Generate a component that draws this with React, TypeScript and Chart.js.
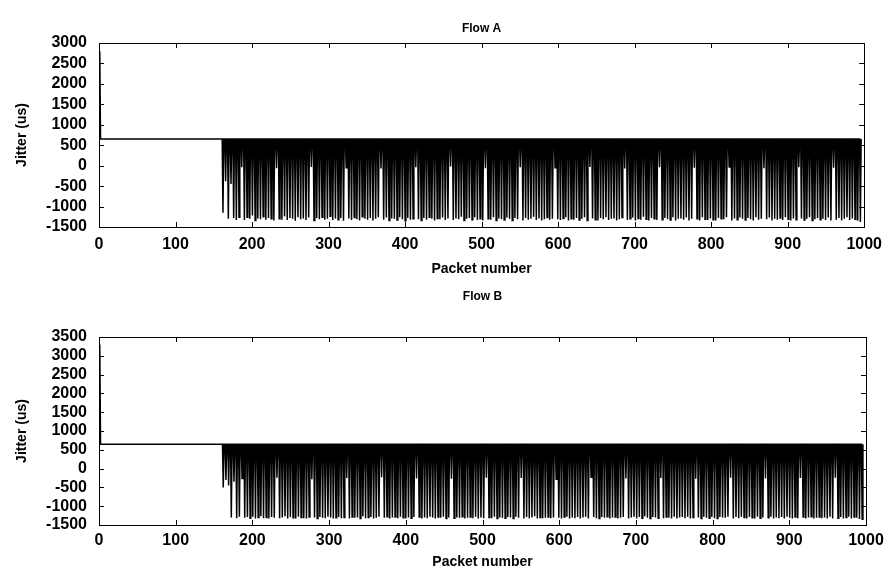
import React, { useEffect, useRef } from 'react';
import { Chart, registerables } from 'chart.js';

Chart.register(...registerables);

const FONT = '"Liberation Sans", Arial, Helvetica, sans-serif';

// ---- data ----
const startPackets = [1, 2, 160];
const flowAStartJitter = [2800, 650, 650];
const flowBStartJitter = [3300, 650, 650];
const flowAHigh = 650;
const flowBHigh = 650;
const stripeFirstPacket = 162;
const stripeSpacing = 3.5; // packets between successive jitter drops

const flowALows = [
  -1150, -380, -1300, -450, -1280, -1330, -1260,
  -40, -1330, -1260, -1300, -1220, -1340, -1290, -1310, -1250, -1320, -1280, -1300, -1340,
  -60, -1300, -1320, -1240, -1330, -1280, -1300, -1350, -1260, -1310, -1290, -1330, -1270,
  -30, -1340, -1280, -1310, -1260, -1320, -1300, -1240, -1330, -1290, -1320, -1280, -1350,
  -50, -1290, -1330, -1270, -1310, -1340, -1250, -1300, -1320, -1280, -1340, -1300, -1260,
  -70, -1320, -1270, -1340, -1290, -1300, -1330, -1260, -1310, -1350, -1280, -1320, -1300,
  -40, -1310, -1340, -1280, -1320, -1260, -1300, -1340, -1290, -1310, -1270, -1330, -1290,
  -20, -1330, -1290, -1310, -1250, -1340, -1300, -1280, -1320, -1260, -1330, -1300, -1340,
  -60, -1300, -1320, -1260, -1340, -1290, -1310, -1330, -1270, -1300, -1340, -1280, -1310,
  -40, -1340, -1280, -1320, -1300, -1250, -1330, -1290, -1340, -1310, -1270, -1320, -1300,
  -50, -1310, -1330, -1290, -1260, -1340, -1300, -1320, -1280, -1330, -1300, -1260, -1340,
  -30, -1290, -1320, -1340, -1280, -1310, -1260, -1330, -1300, -1290, -1340, -1310, -1270,
  -70, -1330, -1300, -1270, -1340, -1290, -1320, -1250, -1310, -1340, -1280, -1300, -1330,
  -40, -1320, -1280, -1310, -1330, -1260, -1340, -1300, -1290, -1320, -1270, -1340, -1300,
  -50, -1300, -1340, -1260, -1310, -1330, -1290, -1320, -1340, -1280, -1300, -1310, -1260,
  -30, -1340, -1290, -1320, -1270, -1300, -1330, -1280, -1310, -1340, -1260, -1320, -1300,
  -60, -1310, -1270, -1340, -1300, -1320, -1280, -1330, -1260, -1310, -1340, -1290, -1320,
  -40, -1290, -1330, -1300, -1260, -1340, -1310, -1280, -1320, -1300, -1330, -1270, -1340,
  -50, -1320, -1280, -1340, -1300, -1260, -1330, -1290, -1310, -1350, -1380,
];

const flowBLows = [
  -500, -300, -450, -1300, -350, -1320, -1280,
  -260, -1310, -1290, -1320, -1280, -1330, -1300, -1270, -1320, -1300, -1330, -1290, -1310,
  -240, -1320, -1300, -1270, -1330, -1290, -1310, -1330, -1280, -1300, -1320, -1330, -1290,
  -280, -1300, -1330, -1290, -1310, -1320, -1280, -1300, -1330, -1310, -1290, -1320, -1300,
  -250, -1330, -1290, -1310, -1300, -1330, -1270, -1320, -1300, -1290, -1330, -1310, -1280,
  -230, -1310, -1280, -1330, -1300, -1290, -1320, -1280, -1310, -1330, -1300, -1320, -1290,
  -260, -1290, -1330, -1300, -1320, -1280, -1300, -1330, -1290, -1310, -1280, -1330, -1300,
  -270, -1320, -1300, -1310, -1280, -1330, -1310, -1290, -1320, -1280, -1330, -1300, -1320,
  -240, -1300, -1320, -1280, -1330, -1300, -1310, -1320, -1290, -1300, -1330, -1280, -1310,
  -250, -1330, -1290, -1320, -1300, -1270, -1330, -1300, -1320, -1310, -1290, -1320, -1300,
  -280, -1310, -1330, -1290, -1280, -1330, -1300, -1320, -1290, -1330, -1300, -1280, -1330,
  -230, -1290, -1320, -1330, -1290, -1310, -1280, -1330, -1300, -1290, -1330, -1310, -1290,
  -260, -1330, -1300, -1280, -1330, -1290, -1320, -1270, -1310, -1330, -1290, -1300, -1320,
  -250, -1320, -1290, -1310, -1330, -1280, -1330, -1300, -1290, -1320, -1280, -1330, -1300,
  -270, -1300, -1330, -1280, -1310, -1320, -1290, -1320, -1330, -1290, -1300, -1310, -1280,
  -240, -1330, -1290, -1320, -1280, -1300, -1330, -1290, -1310, -1330, -1280, -1320, -1300,
  -260, -1310, -1280, -1330, -1300, -1320, -1290, -1330, -1280, -1310, -1330, -1290, -1320,
  -250, -1290, -1330, -1300, -1280, -1330, -1310, -1290, -1320, -1300, -1330, -1280, -1330,
  -240, -1320, -1290, -1330, -1300, -1280, -1330, -1290, -1310, -1340, -1350,
];

function buildSeries(startJitter: number[], lows: number[], high: number) {
  const pts: { x: number; y: number }[] = startPackets.map((x, i) => ({ x, y: startJitter[i] }));
  lows.forEach((low, i) => {
    const p = stripeFirstPacket + i * stripeSpacing;
    pts.push({ x: p - 1.0, y: high }, { x: p, y: low }, { x: p + 1.0, y: high });
  });
  return pts;
}

const inwardTicks = {
  id: 'inwardTicks',
  afterDraw(chart: any) {
    const { ctx, chartArea: a, scales } = chart;
    const xs = scales.x;
    const ys = scales.y;
    ctx.save();
    ctx.strokeStyle = '#000';
    ctx.lineWidth = 1;
    ctx.beginPath();
    xs.ticks.forEach((t: any) => {
      const px = Math.round(xs.getPixelForValue(t.value)) + 0.5;
      ctx.moveTo(px, a.bottom);
      ctx.lineTo(px, a.bottom - 5);
      ctx.moveTo(px, a.top);
      ctx.lineTo(px, a.top + 5);
    });
    ys.ticks.forEach((t: any) => {
      const py = Math.round(ys.getPixelForValue(t.value)) + 0.5;
      ctx.moveTo(a.left, py);
      ctx.lineTo(a.left + 5, py);
      ctx.moveTo(a.right, py);
      ctx.lineTo(a.right - 5, py);
    });
    ctx.stroke();
    ctx.restore();
  },
};

type Props = {
  title: string;
  startJitter: number[];
  lows: number[];
  high: number;
  yMin: number;
  yMax: number;
  height: number;
  topHeight: number;
  bottomHeight: number;
  titlePadTop: number;
  xTitlePadBottom: number;
  xTickPad: number;
};

const plain = (v: any) => String(v);

function JitterChart(p: Props) {
  const ref = useRef<HTMLCanvasElement | null>(null);
  useEffect(() => {
    if (!ref.current) return;
    const tickFont = { family: FONT, size: 16, weight: 'bold' as const };
    const titleFont = { family: FONT, size: 14, weight: 'bold' as const };
    const chart = new Chart(ref.current, {
      type: 'line',
      data: {
        datasets: [
          {
            data: buildSeries(p.startJitter, p.lows, p.high),
            borderColor: '#000',
            borderWidth: 1.5,
            pointRadius: 0,
            tension: 0,
            fill: false,
          },
        ],
      },
      plugins: [inwardTicks],
      options: {
        animation: false,
        responsive: false,
        devicePixelRatio: 1,
        layout: { padding: 0 },
        plugins: { legend: { display: false }, tooltip: { enabled: false }, title: { display: false } },
        scales: {
          x: {
            type: 'linear',
            position: 'bottom',
            min: 0,
            max: 1000,
            ticks: { stepSize: 100, font: tickFont, color: '#000', padding: p.xTickPad, maxRotation: 0, autoSkip: false, callback: plain },
            grid: { drawOnChartArea: false, drawTicks: false },
            border: { display: true, color: '#000', width: 1 },
            title: { display: true, text: 'Packet number', font: titleFont, color: '#000', padding: { top: 0, bottom: p.xTitlePadBottom } },
            afterFit: (s: any) => { s.height = p.bottomHeight; },
          },
          x2: {
            type: 'linear',
            axis: 'x',
            position: 'top',
            min: 0,
            max: 1000,
            ticks: { display: false },
            grid: { drawOnChartArea: false, drawTicks: false },
            border: { display: true, color: '#000', width: 1 },
            title: { display: true, text: p.title, font: { family: FONT, size: 12, weight: 'bold' }, color: '#000', padding: { top: p.titlePadTop, bottom: 0 } },
            afterFit: (s: any) => { s.height = p.topHeight; },
          },
          y: {
            type: 'linear',
            position: 'left',
            min: p.yMin,
            max: p.yMax,
            ticks: { stepSize: 500, font: tickFont, color: '#000', padding: 12, autoSkip: false, callback: plain },
            grid: { drawOnChartArea: false, drawTicks: false },
            border: { display: true, color: '#000', width: 1 },
            title: { display: true, text: 'Jitter (us)', font: titleFont, color: '#000', padding: { top: 14, bottom: 0 } },
            afterFit: (s: any) => { s.width = 99; },
          },
          y2: {
            type: 'linear',
            axis: 'y',
            position: 'right',
            min: p.yMin,
            max: p.yMax,
            ticks: { display: false },
            grid: { drawOnChartArea: false, drawTicks: false },
            border: { display: true, color: '#000', width: 1 },
            afterFit: (s: any) => { s.width = 24; },
          },
        },
      } as any,
    });
    return () => chart.destroy();
  }, []);
  return <canvas ref={ref} width={890} height={p.height} style={{ display: 'block', width: 890, height: p.height }} />;
}

export default function App() {
  return (
    <div style={{ position: 'absolute', left: 0, top: 0, width: 890, height: 575, background: '#fff' }}>
      <JitterChart
        title="Flow A"
        startJitter={flowAStartJitter}
        lows={flowALows}
        high={flowAHigh}
        yMin={-1500}
        yMax={3000}
        height={287}
        topHeight={43}
        bottomHeight={60}
        titlePadTop={21}
        xTitlePadBottom={9}
        xTickPad={8}
      />
      <JitterChart
        title="Flow B"
        startJitter={flowBStartJitter}
        lows={flowBLows}
        high={flowBHigh}
        yMin={-1500}
        yMax={3500}
        height={288}
        topHeight={50}
        bottomHeight={50}
        titlePadTop={2}
        xTitlePadBottom={4}
        xTickPad={6}
      />
    </div>
  );
}
